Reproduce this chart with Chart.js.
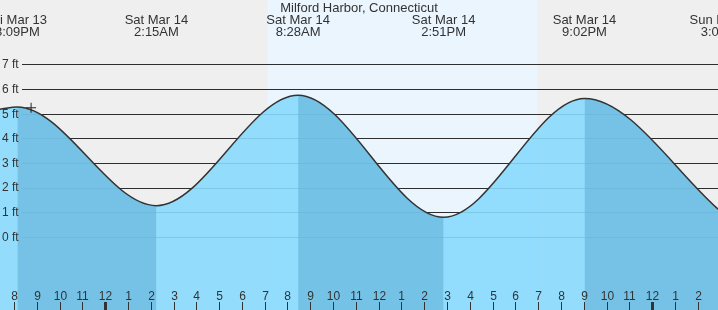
<!doctype html>
<html lang="en">
<head>
    <meta charset="UTF-8">
    <title>Milford Harbor, Connecticut</title>
    <style>
        body { margin: 0; background: #fff; }
        #wrap { position: relative; width: 718px; height: 310px; }
    </style>
</head>
<body>

<div id="wrap"><canvas id="tideChart"></canvas></div>

<script src="https://cdn.jsdelivr.net/npm/chart.js"></script>

<script>
    // all times are hours counted from Fri Mar 13 8:00PM
    var hourLabels = ['8', '9', '10', '11', '12', '1', '2', '3', '4', '5', '6', '7',
        '8', '9', '10', '11', '12', '1', '2', '3', '4', '5', '6', '7',
        '8', '9', '10', '11', '12', '1', '2'];
    var midnightHours = [4, 28];
    var heightTicks = [0, 1, 2, 3, 4, 5, 6, 7];

    var tideDays = ['Fri Mar 13', 'Sat Mar 14', 'Sat Mar 14', 'Sat Mar 14', 'Sat Mar 14', 'Sun Mar 15'];
    var tideTimes = ['8:09PM', '2:15AM', '8:28AM', '2:51PM', '9:02PM', '3:07AM'];
    var tideHours = [0.15, 6.25, 12.467, 18.85, 25.033, 31.117];
    var tideHeights = [5.27, 1.27, 5.75, 0.80, 5.62, 0.95];

    // water level read at the left edge of the picture
    var edgeHour = -0.614;
    var edgeHeight = 5.18;

    // current time marker
    var nowHour = 0.75;
    var nowHeight = 5.24;

    var sunrise = 11.117;
    var sunset = 22.97;

    var xMin = -0.614, xMax = 30.89;
    var yMin = -2.96, yMax = 9.61;

    var lightFill = 'rgba(136,217,253,0.9)';
    var bandFill = 'rgba(96,176,215,0.6)';
    var textColor = '#333';
    var font12 = '12px "Liberation Sans", Arial, sans-serif';
    var font13 = '13px "Liberation Sans", Arial, sans-serif';

    Chart.defaults.font.family = '"Liberation Sans", Arial, sans-serif';

    var points = [{x: edgeHour, y: edgeHeight}];
    for (var i = 0; i < tideHours.length; i++) {
        points.push({x: tideHours[i], y: tideHeights[i]});
    }

    var tideDecor = {
        id: 'tideDecor',
        beforeDraw: function (chart) {
            var c = chart.ctx, xs = chart.scales.x;
            c.save();
            c.fillStyle = '#efefef';
            c.fillRect(0, 0, chart.width, chart.height);
            // daylight
            var x0 = xs.getPixelForValue(sunrise), x1 = xs.getPixelForValue(sunset);
            c.fillStyle = '#eaf5fe';
            c.fillRect(x0, 0, x1 - x0, chart.height);
            c.restore();
        },
        beforeDatasetsDraw: function (chart) {
            // foot lines go under the water so they show through it
            var c = chart.ctx, ys = chart.scales.y;
            c.save();
            c.strokeStyle = '#2e2e2e';
            c.lineWidth = 1;
            heightTicks.forEach(function (v) {
                var py = Math.round(ys.getPixelForValue(v)) + 0.5;
                c.beginPath();
                c.moveTo(22, py);
                c.lineTo(chart.width, py);
                c.stroke();
            });
            c.restore();
        },
        afterDatasetsDraw: function (chart) {
            var c = chart.ctx, xs = chart.scales.x, ys = chart.scales.y, h = chart.height;
            c.save();
            c.strokeStyle = textColor;
            c.fillStyle = textColor;
            c.font = font12;
            c.textAlign = 'center';
            c.textBaseline = 'alphabetic';
            hourLabels.forEach(function (l, i) {
                var px = Math.round(xs.getPixelForValue(i)) + 0.5;
                c.lineWidth = midnightHours.indexOf(i) >= 0 ? 3 : 1;
                c.beginPath();
                c.moveTo(px, h - 8);
                c.lineTo(px, h);
                c.stroke();
                c.fillText(l, px, h - 10);
            });
            c.textAlign = 'left';
            c.textBaseline = 'middle';
            heightTicks.forEach(function (v) {
                c.fillText(v + ' ft', 2, ys.getPixelForValue(v) + 0.5);
            });
            c.restore();
        },
        afterDraw: function (chart) {
            var c = chart.ctx, xs = chart.scales.x;
            c.save();
            c.fillStyle = textColor;
            c.textAlign = 'center';
            c.textBaseline = 'alphabetic';
            c.font = font13;
            c.fillText('Milford Harbor, Connecticut', chart.width / 2, 12);
            for (var i = 0; i < tideHours.length; i++) {
                var px = xs.getPixelForValue(tideHours[i]);
                c.fillText(tideDays[i], px, 24);
                c.fillText(tideTimes[i], px, 36);
            }
            c.restore();
        }
    };

    new Chart(document.getElementById('tideChart'), {
        type: 'line',
        data: {
            datasets: [{
                // now marker
                type: 'scatter',
                data: [{x: nowHour, y: nowHeight}],
                pointStyle: 'cross',
                pointRadius: 5,
                borderColor: '#222',
                borderWidth: 1
            }, {
                // the curve itself
                data: points,
                borderColor: '#333',
                borderWidth: 1.5,
                pointRadius: 0,
                cubicInterpolationMode: 'monotone',
                fill: false
            }, {
                // falling tide gets the darker band
                data: points,
                borderColor: 'rgba(0,0,0,0)',
                borderWidth: 0,
                pointRadius: 0,
                cubicInterpolationMode: 'monotone',
                fill: 'start',
                backgroundColor: 'rgba(0,0,0,0)',
                segment: {
                    backgroundColor: function (s) {
                        return s.p1.y > s.p0.y ? bandFill : 'rgba(0,0,0,0)';
                    }
                }
            }, {
                // water
                data: points,
                borderColor: 'rgba(0,0,0,0)',
                borderWidth: 0,
                pointRadius: 0,
                cubicInterpolationMode: 'monotone',
                fill: 'start',
                backgroundColor: lightFill
            }]
        },
        options: {
            responsive: true,
            maintainAspectRatio: false,
            animation: false,
            layout: {padding: 0, autoPadding: false},
            plugins: {
                legend: {display: false},
                tooltip: {enabled: false}
            },
            scales: {
                x: {
                    type: 'linear',
                    min: xMin,
                    max: xMax,
                    grid: {display: false, drawTicks: false},
                    border: {display: false},
                    ticks: {display: false},
                    afterBuildTicks: function (s) {
                        s.ticks = hourLabels.map(function (l, i) { return {value: i}; });
                    },
                    afterFit: function (s) { s.height = 0; }
                },
                y: {
                    min: yMin,
                    max: yMax,
                    grid: {display: false, drawTicks: false},
                    border: {display: false},
                    ticks: {display: false},
                    afterBuildTicks: function (s) {
                        s.ticks = heightTicks.map(function (v) { return {value: v}; });
                    },
                    afterFit: function (s) { s.width = 0; }
                }
            }
        },
        plugins: [tideDecor]
    });
</script>
</body>
</html>
